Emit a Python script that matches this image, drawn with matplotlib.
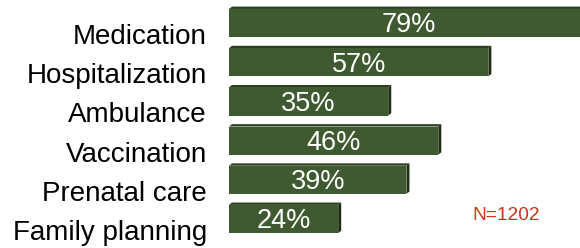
import matplotlib
matplotlib.use('Agg')
import matplotlib.pyplot as plt
from matplotlib.patches import Polygon
from matplotlib.transforms import ScaledTranslation
import numpy as np

plt.rcParams['font.family'] = ['Liberation Sans', 'DejaVu Sans']

# 数据
categories = ['Medication', 'Hospitalization', 'Ambulance', 'Vaccination',
              'Prenatal care', 'Family planning']
values = [79, 57, 35, 46, 39, 24]
labels = ['79%', '57%', '35%', '46%', '39%', '24%']
note = 'N=1202'

face = '#3F5A30'
top_c = '#2C4021'
side_c = '#1E2D16'

fig = plt.figure(figsize=(5.8, 2.48), dpi=100)
ax = fig.add_axes([229 / 580, 0.038, 455 / 580, 0.948])

y = np.arange(len(categories))
h = 0.72
dx, dy = 0.66, 0.06   # 立体效果的深度

for yi, v in zip(y, values):
    top = yi - h / 2
    # 顶面
    ax.add_patch(Polygon([(0, top), (dx, top - dy), (v + dx, top - dy), (v, top)],
                         closed=True, fc=top_c, ec='none'))
    # 侧面
    ax.add_patch(Polygon([(v, top), (v + dx, top - dy), (v + dx, yi + h / 2 - dy), (v, yi + h / 2)],
                         closed=True, fc=side_c, ec='none'))

ax.barh(y, values, height=h, color=face, edgecolor='none')

for yi, v, lab in zip(y, values, labels):
    ax.text(v / 2, yi + 0.06, lab, ha='center', va='center', color='white', fontsize=19.5)

ax.set_yticks(y)
ax.set_yticklabels(categories, fontsize=20)
ax.tick_params(axis='y', length=0, pad=16)
for t in ax.get_yticklabels():
    t.set_transform(t.get_transform() + ScaledTranslation(0, -11 / 100, fig.dpi_scale_trans))
ax.set_xticks([])

ax.set_xlim(0, 100)
ax.set_ylim(5.5, -0.5)
for s in ax.spines.values():
    s.set_visible(False)

fig.text(506 / 580, 1 - 215 / 248, note, color='#C8371A', fontsize=13.8,
         ha='center', va='center')

fig.savefig('out.png', dpi=100)
